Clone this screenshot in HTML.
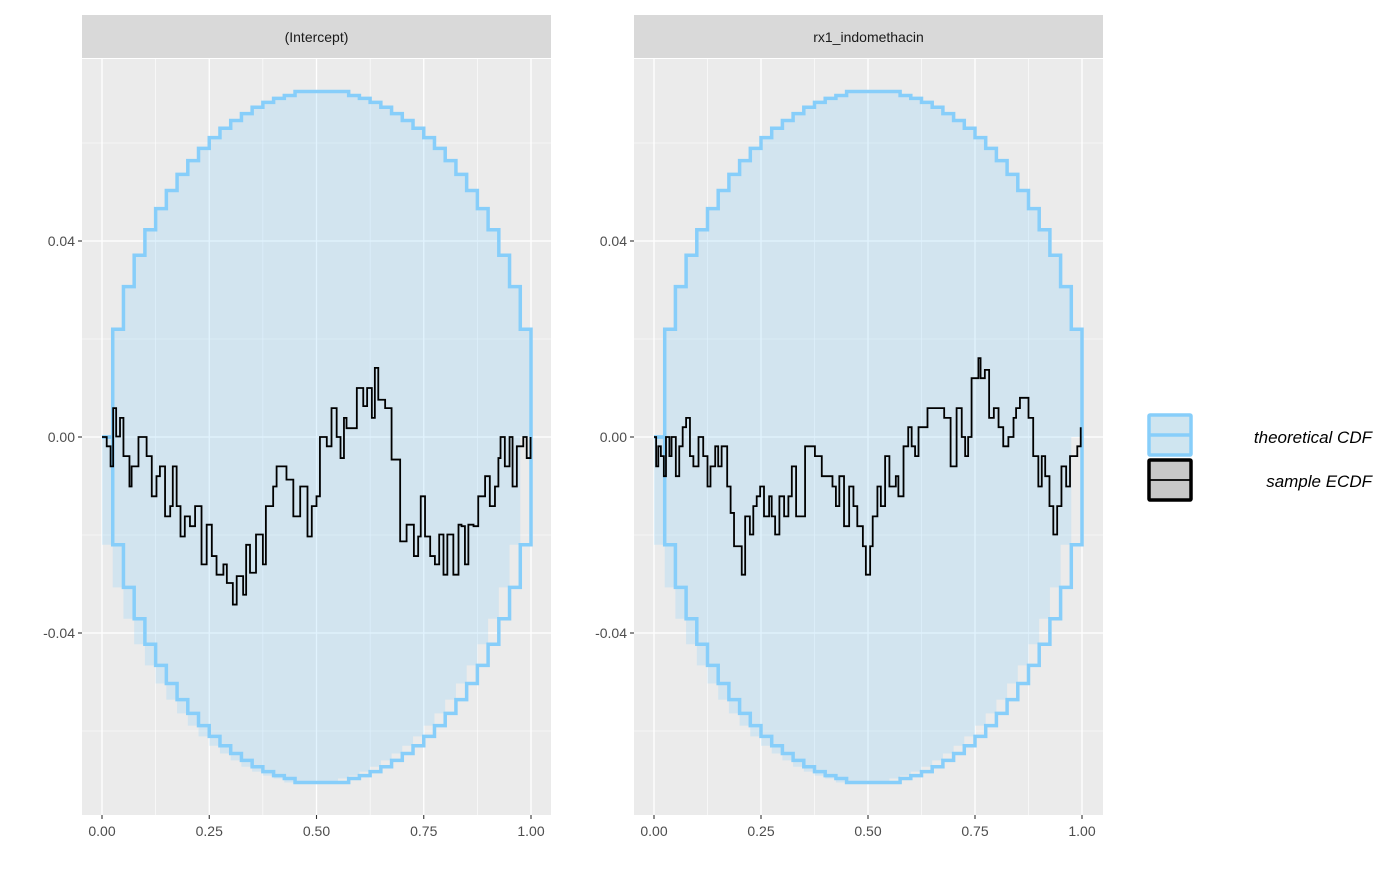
<!DOCTYPE html>
<html><head><meta charset="utf-8"><style>
body{margin:0;background:#fff;}
svg text{font-family:"Liberation Sans",Arial,sans-serif;}
</style></head><body>
<svg id="c" width="1400" height="865" xmlns="http://www.w3.org/2000/svg"></svg>
<script>
// band upper limit at x = 0,0.025,...,1 (lower is symmetric)
const bandX=[0,0.025,0.05,0.075,0.1,0.125,0.15,0.175,0.2,0.225,0.25,0.275,0.3,0.325,0.35,0.375,0.4,0.425,0.45,0.475,0.5,0.525,0.55,0.575,0.6,0.625,0.65,0.675,0.7,0.725,0.75,0.775,0.8,0.825,0.85,0.875,0.9,0.925,0.95,0.975,1];
const bandUpper=[0,0.0220,0.0307,0.0371,0.0423,0.0466,0.0503,0.0536,0.0564,0.0589,0.0611,0.0630,0.0646,0.0660,0.0673,0.0683,0.0691,0.0697,0.0705,0.0705,0.0705,0.0705,0.0705,0.0697,0.0691,0.0683,0.0673,0.0660,0.0646,0.0630,0.0611,0.0589,0.0564,0.0536,0.0503,0.0466,0.0423,0.0371,0.0307,0.0220,0];
const ecdf1X=[0,0.003,0.011,0.020,0.026,0.033,0.042,0.050,0.064,0.069,0.079,0.085,0.096,0.104,0.116,0.127,0.135,0.147,0.159,0.165,0.174,0.183,0.193,0.205,0.217,0.232,0.244,0.256,0.267,0.283,0.291,0.305,0.314,0.329,0.336,0.345,0.359,0.375,0.382,0.399,0.407,0.423,0.430,0.446,0.462,0.479,0.489,0.500,0.508,0.524,0.535,0.547,0.556,0.564,0.570,0.582,0.594,0.609,0.618,0.629,0.636,0.644,0.660,0.675,0.695,0.710,0.727,0.737,0.743,0.753,0.765,0.776,0.786,0.796,0.805,0.819,0.831,0.838,0.846,0.854,0.866,0.877,0.893,0.904,0.916,0.924,0.929,0.939,0.950,0.957,0.967,0.982,0.990,0.999];
const ecdf1Y=[0,0,-0.0019,-0.0060,0.0059,0.0001,0.0039,-0.0039,-0.0101,-0.0060,-0.0060,0,0,-0.0039,-0.0121,-0.0080,-0.0060,-0.0162,-0.0141,-0.0060,-0.0141,-0.0203,-0.0162,-0.0182,-0.0141,-0.0260,-0.0179,-0.0243,-0.0281,-0.0260,-0.0298,-0.0342,-0.0284,-0.0322,-0.0220,-0.0277,-0.0199,-0.0260,-0.0141,-0.0101,-0.0060,-0.0060,-0.0087,-0.0162,-0.0101,-0.0203,-0.0141,-0.0121,0,-0.0019,0.0059,0,-0.0043,0.0039,0.0018,0.0018,0.0100,0.0063,0.0100,0.0039,0.0141,0.0076,0.0059,-0.0046,-0.0213,-0.0179,-0.0243,-0.0203,-0.0121,-0.0203,-0.0243,-0.0260,-0.0199,-0.0281,-0.0199,-0.0281,-0.0179,-0.0182,-0.0260,-0.0179,-0.0182,-0.0121,-0.0080,-0.0141,-0.0101,-0.0043,0,-0.0060,0,-0.0101,-0.0019,0,-0.0043,0];
const ecdf2X=[0,0.005,0.010,0.016,0.023,0.028,0.036,0.041,0.051,0.059,0.067,0.075,0.084,0.092,0.104,0.115,0.125,0.132,0.143,0.150,0.158,0.171,0.179,0.187,0.197,0.205,0.213,0.224,0.232,0.240,0.248,0.257,0.269,0.275,0.283,0.293,0.304,0.314,0.322,0.332,0.343,0.353,0.364,0.376,0.392,0.403,0.417,0.425,0.433,0.444,0.456,0.466,0.475,0.488,0.495,0.505,0.511,0.522,0.530,0.540,0.550,0.565,0.571,0.583,0.594,0.602,0.610,0.618,0.633,0.639,0.653,0.664,0.678,0.693,0.707,0.719,0.727,0.734,0.742,0.758,0.763,0.773,0.783,0.794,0.805,0.816,0.828,0.840,0.846,0.855,0.869,0.875,0.886,0.898,0.906,0.914,0.924,0.933,0.942,0.952,0.963,0.972,0.984,0.989,0.997];
const ecdf2Y=[0,-0.0060,-0.0019,-0.0039,-0.0080,0,-0.0039,0,-0.0080,-0.0019,0.0020,0.0039,-0.0039,-0.0060,0,-0.0039,-0.0101,-0.0060,-0.0019,-0.0060,-0.0019,-0.0101,-0.0155,-0.0223,-0.0223,-0.0281,-0.0162,-0.0199,-0.0141,-0.0121,-0.0101,-0.0162,-0.0121,-0.0162,-0.0199,-0.0121,-0.0162,-0.0121,-0.0060,-0.0162,-0.0162,-0.0019,-0.0019,-0.0039,-0.0080,-0.0080,-0.0101,-0.0141,-0.0080,-0.0182,-0.0101,-0.0141,-0.0182,-0.0223,-0.0281,-0.0223,-0.0162,-0.0101,-0.0141,-0.0039,-0.0101,-0.0080,-0.0121,-0.0019,0.0020,-0.0019,-0.0039,0.0020,0.0020,0.0059,0.0059,0.0059,0.0039,-0.0060,0.0059,0,-0.0039,0,0.0120,0.0161,0.0120,0.0137,0.0039,0.0059,0.0020,-0.0019,0,0.0039,0.0059,0.0080,0.0080,0.0039,-0.0039,-0.0101,-0.0039,-0.0080,-0.0141,-0.0199,-0.0141,-0.0060,-0.0101,-0.0039,-0.0039,-0.0019,0.0020];
const xTicks=[0,0.25,0.5,0.75,1];
const xTickLabels=["0.00","0.25","0.50","0.75","1.00"];
const yTicks=[-0.04,0,0.04];
const yTickLabels=["-0.04","0.00","0.04"];
const panelTitles=["(Intercept)","rx1_indomethacin"];

const NS="http://www.w3.org/2000/svg";
const svg=document.getElementById('c');
function mk(tag,attrs,parent){const e=document.createElementNS(NS,tag);for(const k in attrs)e.setAttribute(k,attrs[k]);(parent||svg).appendChild(e);return e;}
const panels=[{left:82,right:551,x0:102,x1:531,xs:ecdf1X,ys:ecdf1Y},{left:634,right:1103,x0:654,x1:1082,xs:ecdf2X,ys:ecdf2Y}];
const panelTop=59,panelBottom=815;
function yS(v){return 437-v*4900;}
panels.forEach((p,i)=>{
  const xS=v=>p.x0+v*(p.x1-p.x0);
  const g=mk('g',{});
  
  
  const bg=mk('rect',{x:p.left,y:panelTop,width:p.right-p.left,height:panelBottom-panelTop,fill:'#EBEBEB'},g);
  
  
  [0.125,0.375,0.625,0.875].forEach(v=>{const l=mk('line',{x1:xS(v),x2:xS(v),y1:panelTop,y2:panelBottom,stroke:'#fff','stroke-width':0.6},g);});
  [-0.06,-0.02,0.02,0.06].forEach(v=>{const l=mk('line',{x1:p.left,x2:p.right,y1:yS(v),y2:yS(v),stroke:'#fff','stroke-width':0.6},g);});
  xTicks.forEach(v=>{const l=mk('line',{x1:xS(v),x2:xS(v),y1:panelTop,y2:panelBottom,stroke:'#fff','stroke-width':1.3},g);});
  yTicks.forEach(v=>{const l=mk('line',{x1:p.left,x2:p.right,y1:yS(v),y2:yS(v),stroke:'#fff','stroke-width':1.3},g);});
  let up='',lo='';
  for(let k=0;k<bandX.length;k++){
    up+=(k===0?'M'+xS(bandX[k])+' '+yS(bandUpper[k]):' H'+xS(bandX[k])+' V'+yS(bandUpper[k]));
  }
  for(let k=bandX.length-1;k>=0;k--){
    lo+=' H'+xS(bandX[k])+' V'+yS(-bandUpper[k]);
  }
  const fillP=mk('path',{d:up+lo+' Z',fill:'rgba(135,206,250,0.25)',stroke:'none'},g);
  
  
  const upP=mk('path',{d:up,fill:'none',stroke:'#87CEFA','stroke-width':3.5},g);
  
  
  let lod='';
  for(let k=0;k<bandX.length;k++){lod+=(k===0?'M'+xS(bandX[k])+' '+yS(-bandUpper[k]):' H'+xS(bandX[k])+' V'+yS(-bandUpper[k]));}
  const loP=mk('path',{d:lod,fill:'none',stroke:'#87CEFA','stroke-width':3.5},g);
  
  
  let d='';
  const n=Math.min(p.xs.length,p.ys.length);
  for(let k=0;k<n;k++){
    const xa=xS(p.xs[k]),ya=yS(p.ys[k]);
    d+=(k===0?'M'+xa+' '+ya:' H'+xa+' V'+ya);
  }
  const ln=mk('path',{d:d,fill:'none',stroke:'#000','stroke-width':1.8},g);
  
  
  const st=mk('rect',{x:p.left,y:15,width:p.right-p.left,height:43,fill:'#D9D9D9'},g);
  
  
  const stt=mk('text',{x:(p.left+p.right)/2,y:42,'text-anchor':'middle','font-size':14,fill:'#1A1A1A'},g);
  stt.textContent=panelTitles[i];
  
  
  xTicks.forEach((v,k)=>{
    const t=mk('line',{x1:xS(v),x2:xS(v),y1:panelBottom,y2:panelBottom+4,stroke:'#333','stroke-width':1.1},g);
    
    
    const tl=mk('text',{x:xS(v),y:836,'text-anchor':'middle','font-size':14,fill:'#4D4D4D'},g);
    tl.textContent=xTickLabels[k];
    
    
  });
  yTicks.forEach((v,k)=>{
    const t=mk('line',{x1:p.left-4,x2:p.left,y1:yS(v),y2:yS(v),stroke:'#333','stroke-width':1.1},g);
    
    
    const tl=mk('text',{x:p.left-7,y:yS(v)+5,'text-anchor':'end','font-size':14,fill:'#4D4D4D'},g);
    tl.textContent=yTickLabels[k];
    
    
  });
});
const lg=mk('g',{});


const k1=mk('rect',{x:1149,y:415,width:42,height:40,fill:'#CFE5F0',stroke:'#87CEFA','stroke-width':3.5,rx:1},lg);


mk('line',{x1:1149,x2:1191,y1:435,y2:435,stroke:'#87CEFA','stroke-width':3.5},lg);
const k2=mk('rect',{x:1149,y:460,width:42,height:40,fill:'#C8C8C8',stroke:'#000','stroke-width':3.5,rx:1},lg);


mk('line',{x1:1149,x2:1191,y1:480,y2:480,stroke:'#000','stroke-width':1.8},lg);
const t1=mk('text',{x:1372,y:443,'text-anchor':'end','font-size':17,'font-style':'italic',fill:'#000'},lg);
t1.textContent='theoretical CDF';


const t2=mk('text',{x:1372,y:487,'text-anchor':'end','font-size':17,'font-style':'italic',fill:'#000'},lg);
t2.textContent='sample ECDF';


</script>
</body></html>
